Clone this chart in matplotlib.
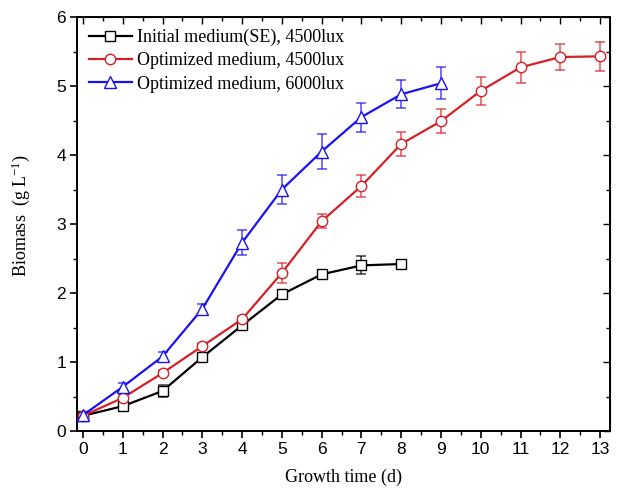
import matplotlib.pyplot as plt
import numpy as np

plt.rcParams['mathtext.fontset'] = 'custom'
plt.rcParams['mathtext.rm'] = 'Liberation Serif'
plt.rcParams['mathtext.default'] = 'rm'

days_se = np.arange(0, 9)
biomass_se = [0.22, 0.36, 0.58, 1.07, 1.53, 1.98, 2.27, 2.40, 2.42]
err_se = [0.03, 0.03, 0.08, 0.05, 0.06, 0.04, 0.03, 0.13, 0.04]

days_opt = np.arange(0, 14)
biomass_opt = [0.22, 0.48, 0.84, 1.23, 1.62, 2.29, 3.04, 3.55, 4.16, 4.49, 4.93, 5.27, 5.42, 5.43]
err_opt = [0.03, 0.05, 0.04, 0.04, 0.05, 0.14, 0.1, 0.16, 0.17, 0.17, 0.2, 0.23, 0.19, 0.21]

days_6000 = np.arange(0, 10)
biomass_6000 = [0.23, 0.64, 1.08, 1.77, 2.73, 3.50, 4.05, 4.55, 4.88, 5.04]
err_6000 = [0.03, 0.05, 0.07, 0.07, 0.18, 0.21, 0.25, 0.21, 0.2, 0.23]

labels = ["Initial medium(SE), 4500lux", "Optimized medium, 4500lux", "Optimized medium, 6000lux"]

fig = plt.figure(figsize=(6.24, 4.9), dpi=100)
ax = fig.add_axes([0.1234, 0.1204, 0.8542, 0.8449])

series = [
    (days_se, biomass_se, err_se, "black", "s", 6.5),
    (days_opt, biomass_opt, err_opt, "#d42027", "o", 7.5),
    (days_6000, biomass_6000, err_6000, "#1a12f0", "^", 8.0),
]
handles = []
for (x, y, e, c, m, ms), lab in zip(series, labels):
    ax.errorbar(x, y, yerr=e, fmt="none", ecolor=c, elinewidth=1.2, capsize=3.3,
                capthick=1.2, alpha=0.7, zorder=2)
    h, = ax.plot(x, y, color=c, linewidth=1.6, marker=m, markersize=ms,
                 markerfacecolor="white", markeredgecolor=c, markeredgewidth=1.0,
                 label=lab, zorder=3)
    handles.append(h)

ax.set_xlim(-0.15, 13.25)
ax.set_ylim(0, 6)
ax.set_xticks(range(0, 14))
ax.set_xticks(np.arange(0.5, 13.5, 1), minor=True)
ax.set_yticks(range(0, 7))
ax.set_yticks(np.arange(0.5, 6, 1), minor=True)
ax.tick_params(axis="both", which="major", direction="out", length=5, width=1.2,
               labelsize=12.5, top=False, right=False, pad=3)
ax.tick_params(axis="both", which="minor", direction="out", length=3, width=1.0, top=False, right=False)
for lab in ax.get_xticklabels() + ax.get_yticklabels():
    lab.set_family("Liberation Sans")

# inward ticks on top and right
sec_x = ax.secondary_xaxis("top")
sec_x.set_xticks(range(0, 14))
sec_x.set_xticks(np.arange(0.5, 13.5, 1), minor=True)
sec_x.tick_params(which="major", direction="in", length=5, width=1.0, labeltop=False)
sec_x.tick_params(which="minor", direction="in", length=3, width=1.0)
sec_y = ax.secondary_yaxis("right")
sec_y.set_yticks(range(0, 7))
sec_y.set_yticks(np.arange(0.5, 6, 1), minor=True)
sec_y.tick_params(which="major", direction="in", length=5, width=1.0, labelright=False)
sec_y.tick_params(which="minor", direction="in", length=3, width=1.0)

for sp in ax.spines.values():
    sp.set_linewidth(1.4)

ax.set_xlabel("Growth time (d)", family="Liberation Serif", fontsize=13, labelpad=8)
ax.set_ylabel("Biomass  (g L$^{-1}$)", family="Liberation Serif", fontsize=13)
ax.yaxis.set_label_coords(-0.085, 0.52)

ax.legend(handles=handles, loc="upper left", frameon=False,
          prop={"family": "Liberation Serif", "size": 13},
          handlelength=2.4, borderaxespad=0.25, labelspacing=0.35, handletextpad=0.3)

fig.savefig("out.png", dpi=100)
